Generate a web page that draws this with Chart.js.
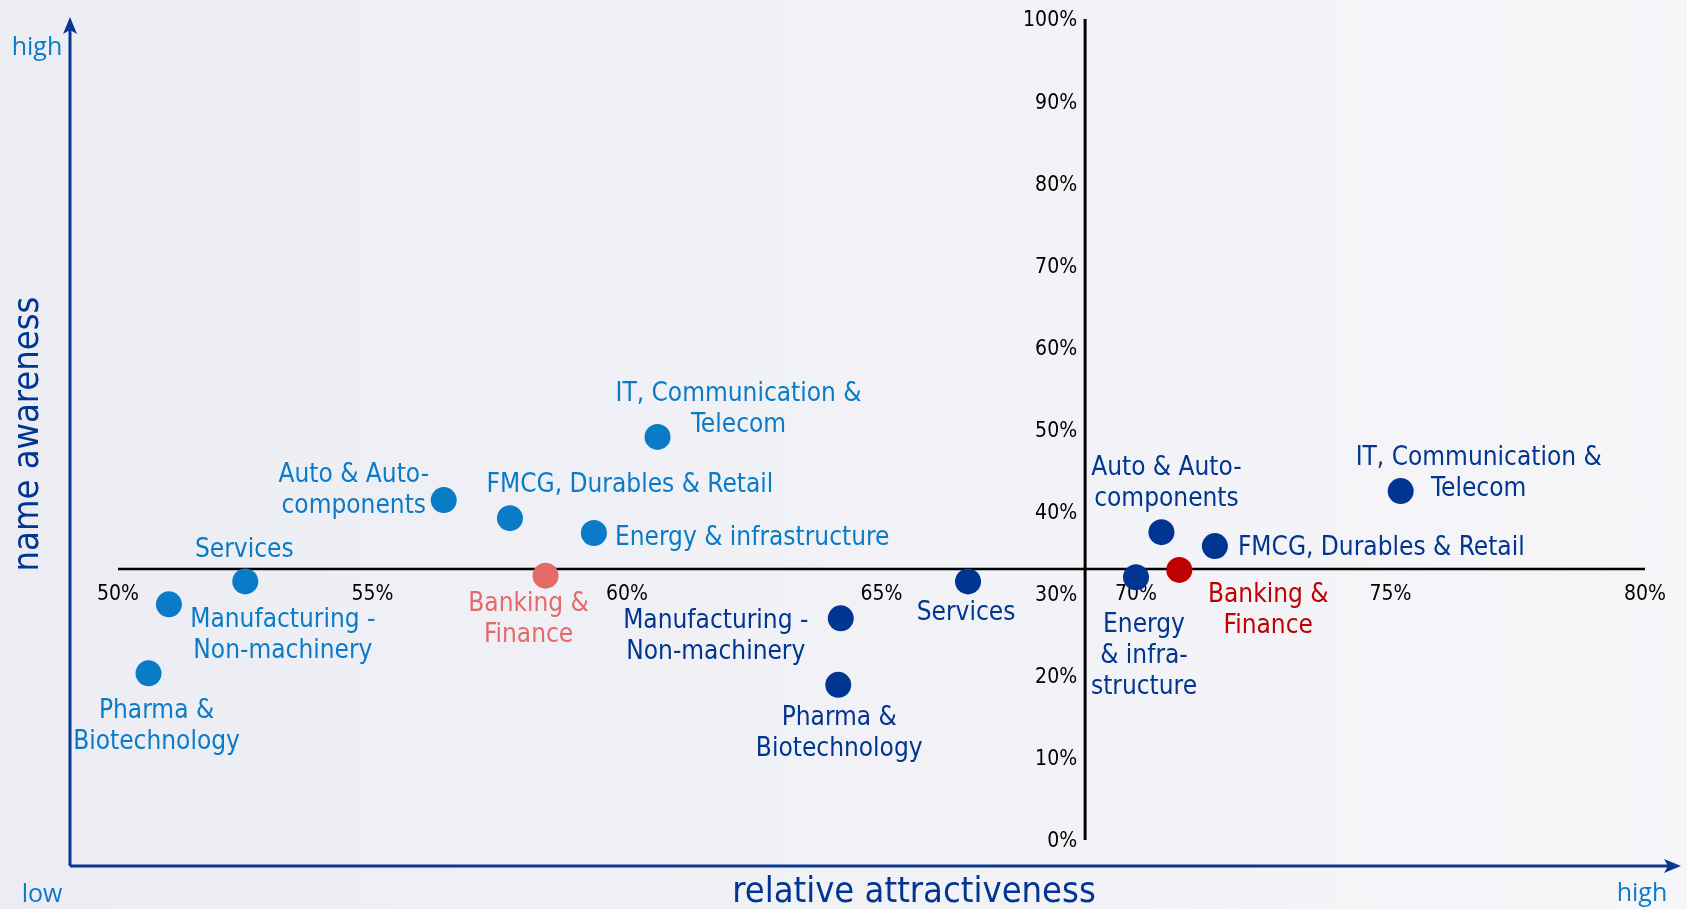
<!DOCTYPE html>
<html>
<head>
<meta charset="utf-8">
<script src="https://cdn.jsdelivr.net/npm/chart.js@4/dist/chart.umd.min.js"></script>
<style>
  html, body { margin: 0; padding: 0; }
  body { width: 1687px; height: 909px; overflow: hidden; background: linear-gradient(to right, #ecedf3, #f6f6f9); }
</style>
</head>
<body>
<canvas id="chart" width="1687" height="909"></canvas>
<script>
// Data
const sectors = ['Pharma & Biotechnology', 'Manufacturing - Non-machinery', 'Services', 'Auto & Auto-components',
  'FMCG, Durables & Retail', 'Energy & infrastructure', 'IT, Communication & Telecom', 'Banking & Finance'];

// light blue group (left)
const attractivenessA = [50.6, 51.0, 52.5, 56.4, 57.7, 59.35, 60.6, 58.4];
const awarenessA      = [20.3, 28.7, 31.5, 41.4, 39.2, 37.4, 49.1, 32.2];
const labelsA = [['Pharma &', 'Biotechnology'], ['Manufacturing -', 'Non-machinery'], ['Services'], ['Auto & Auto-', 'components'],
  ['FMCG, Durables & Retail'], ['Energy & infrastructure'], ['IT, Communication &', 'Telecom'], ['Banking &', 'Finance']];

// dark blue group (right)
const attractivenessB = [64.15, 64.2, 66.7, 70.5, 71.55, 70.0, 75.2, 70.85];
const awarenessB      = [18.9, 27.0, 31.5, 37.5, 35.8, 32.0, 42.5, 32.9];
const labelsB = [['Pharma &', 'Biotechnology'], ['Manufacturing -', 'Non-machinery'], ['Services'], ['Auto & Auto-', 'components'],
  ['FMCG, Durables & Retail'], ['Energy', '& infra-', 'structure'], ['IT, Communication &', 'Telecom'], ['Banking &', 'Finance']];

const xTicks = [50, 55, 60, 65, 70, 75, 80];
const yTicks = [0, 10, 20, 30, 40, 50, 60, 70, 80, 90, 100];
const xCross = 69;   // vertical line sits at this attractiveness
const yCross = 33;   // horizontal line sits at this awareness
const highlight = 'Banking & Finance';

// Styles
const FONT = "'DejaVu Sans Condensed', 'DejaVu Sans', sans-serif";
const colA = '#0a7bc6', colAhi = '#e46a6a';
const colB = '#003591', colBhi = '#c00000';
const arrowCol = '#0a3791';

// label placement relative to the point: [dx, dy of first line centre, align]
const placeA = [[8, 38, 'center'], [114, 16, 'center'], [-1, -31, 'center'], [-90, -25, 'center'],
  [120, -33, 'center'], [21, 5, 'left'], [81, -43, 'center'], [-17, 29, 'center']];
const placeB = [[1, 33, 'center'], [-125, 3, 'center'], [-2, 32, 'center'], [5, -64, 'center'],
  [23, 2, 'left'], [8, 48, 'center'], [78, -33, 'center'], [89, 25, 'center']];

function points(xs, ys) {
  return xs.map((x, i) => ({ x: x, y: ys[i] }));
}

const quadrantPlugin = {
  id: 'quadrant',
  beforeDatasetsDraw(chart) {
    const ctx = chart.ctx;
    const x = chart.scales.x, y = chart.scales.y;
    const cx = x.getPixelForValue(xCross), cy = y.getPixelForValue(yCross);
    ctx.save();
    ctx.strokeStyle = '#000';
    ctx.lineWidth = 2.5;
    ctx.beginPath();
    ctx.moveTo(x.getPixelForValue(xTicks[0]), cy);
    ctx.lineTo(x.getPixelForValue(xTicks[xTicks.length - 1]), cy);
    ctx.stroke();
    ctx.lineWidth = 3;
    ctx.beginPath();
    ctx.moveTo(cx, y.getPixelForValue(yTicks[yTicks.length - 1]));
    ctx.lineTo(cx, y.getPixelForValue(yTicks[0]));
    ctx.stroke();

    // tick labels
    ctx.fillStyle = '#000';
    ctx.font = '21px ' + FONT;
    ctx.textBaseline = 'middle';
    ctx.textAlign = 'center';
    xTicks.forEach(v => ctx.fillText(v + '%', x.getPixelForValue(v), cy + 25));
    ctx.textAlign = 'right';
    yTicks.forEach(v => ctx.fillText(v + '%', cx - 8, y.getPixelForValue(v) + 2));

    // outer arrows
    ctx.strokeStyle = arrowCol;
    ctx.fillStyle = arrowCol;
    ctx.lineWidth = 3;
    ctx.beginPath();
    ctx.moveTo(70, 866);
    ctx.lineTo(70, 24);
    ctx.moveTo(70, 866);
    ctx.lineTo(1672, 866);
    ctx.stroke();
    ctx.beginPath();
    ctx.moveTo(70, 17); ctx.lineTo(63, 34); ctx.lineTo(70, 30); ctx.lineTo(77, 34); ctx.closePath();
    ctx.fill();
    ctx.beginPath();
    ctx.moveTo(1681, 866); ctx.lineTo(1664, 859); ctx.lineTo(1668, 866); ctx.lineTo(1664, 873); ctx.closePath();
    ctx.fill();

    // axis titles
    ctx.fillStyle = colB;
    ctx.font = '36px ' + FONT;
    ctx.textAlign = 'center';
    ctx.textBaseline = 'middle';
    ctx.fillText('relative attractiveness', 914, 893);
    ctx.save();
    ctx.translate(29, 434);
    ctx.rotate(-Math.PI / 2);
    ctx.fillText('name awareness', 0, 0);
    ctx.restore();

    ctx.fillStyle = colA;
    ctx.font = "25px 'Open Sans', sans-serif";
    ctx.textBaseline = 'alphabetic';
    ctx.fillText('high', 37, 55);
    ctx.fillText('low', 42, 902);
    ctx.fillText('high', 1642, 901);
    ctx.restore();
  },
  afterDatasetsDraw(chart) {
    const ctx = chart.ctx;
    const groups = [[labelsA, placeA, colA, colAhi], [labelsB, placeB, colB, colBhi]];
    ctx.save();
    ctx.font = '26px ' + FONT;
    ctx.textBaseline = 'middle';
    groups.forEach((g, di) => {
      const meta = chart.getDatasetMeta(di);
      meta.data.forEach((pt, i) => {
        const [dx, dy, align] = g[1][i];
        ctx.fillStyle = sectors[i] === highlight ? g[3] : g[2];
        ctx.textAlign = align;
        g[0][i].forEach((line, k) => ctx.fillText(line, pt.x + dx, pt.y + dy + k * 31));
      });
    });
    ctx.restore();
  }
};

new Chart(document.getElementById('chart'), {
  type: 'scatter',
  data: {
    datasets: [
      {
        label: 'group A',
        data: points(attractivenessA, awarenessA),
        pointRadius: 13,
        pointBorderWidth: 0,
        pointBackgroundColor: sectors.map(s => s === highlight ? colAhi : colA)
      },
      {
        label: 'group B',
        data: points(attractivenessB, awarenessB),
        pointRadius: 13,
        pointBorderWidth: 0,
        pointBackgroundColor: sectors.map(s => s === highlight ? colBhi : colB)
      }
    ]
  },
  options: {
    responsive: false,
    animation: false,
    devicePixelRatio: 1,
    layout: { padding: { left: 118, right: 42, top: 19, bottom: 69 } },
    scales: {
      x: { display: false, min: 50, max: 80 },
      y: { display: false, min: 0, max: 100 }
    },
    plugins: { legend: { display: false }, tooltip: { enabled: false } }
  },
  plugins: [quadrantPlugin]
});
</script>
</body>
</html>
